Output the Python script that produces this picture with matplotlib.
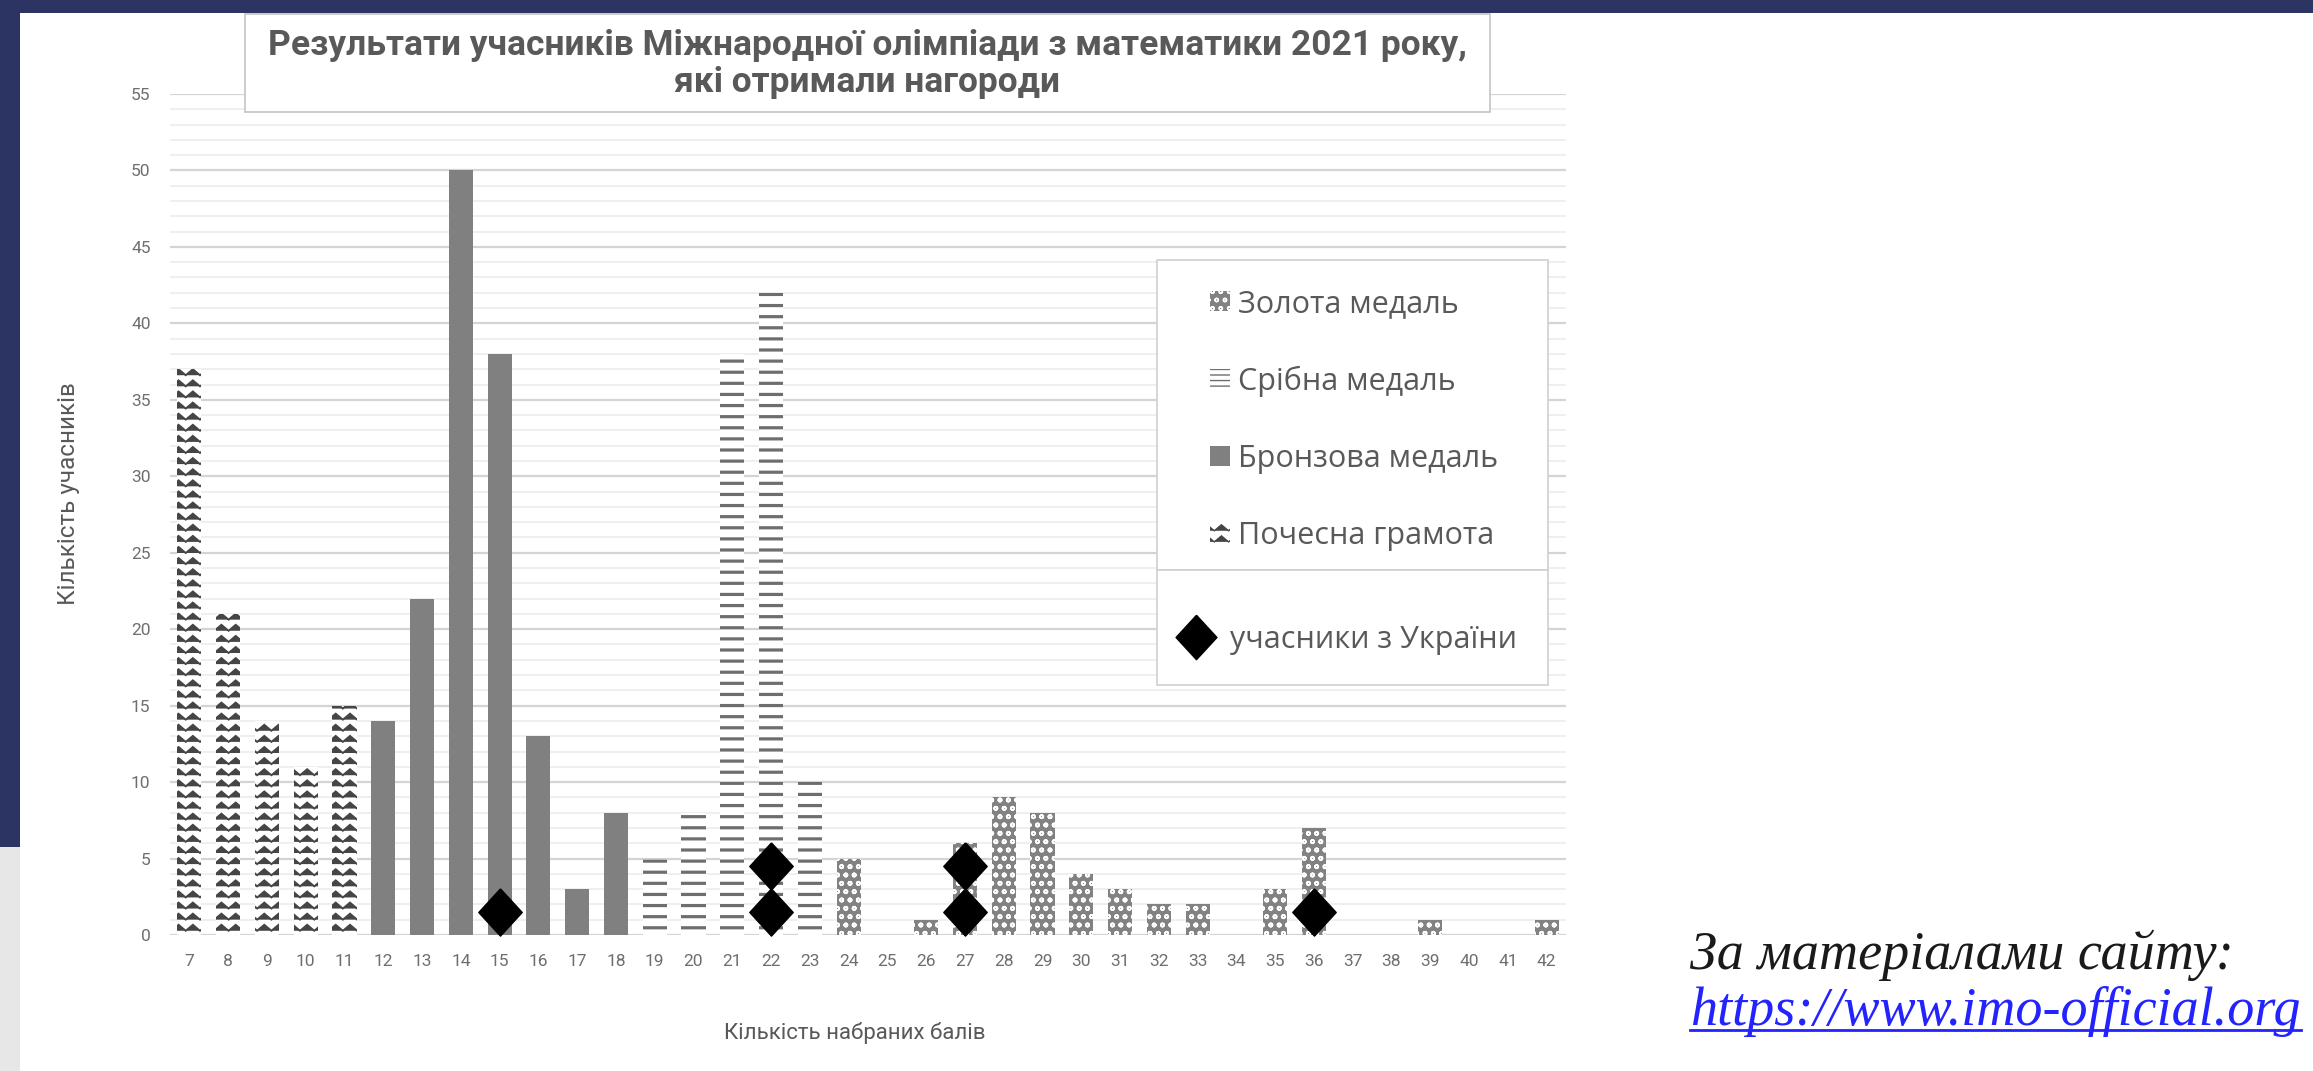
import numpy as np
import matplotlib
matplotlib.use('Agg')
import matplotlib.pyplot as plt
import matplotlib.hatch as mhatch
import matplotlib.patches as mpatches
from matplotlib.lines import Line2D
from matplotlib.path import Path
from matplotlib.ticker import MultipleLocator

# --- data --------------------------------------------------------------
score_ticks = list(range(7, 43))

hm_scores = [7, 8, 9, 10, 11]
hm_counts = [37, 21, 14, 11, 15]

bronze_scores = [12, 13, 14, 15, 16, 17, 18]
bronze_counts = [14, 22, 50, 38, 13, 3, 8]

silver_scores = [19, 20, 21, 22, 23]
silver_counts = [5, 8, 38, 42, 10]

gold_scores = [24, 25, 26, 27, 28, 29, 30, 31, 32, 33, 34, 35, 36, 37, 38, 39, 40, 41, 42]
gold_counts = [5, 0, 1, 6, 9, 8, 4, 3, 2, 2, 0, 3, 7, 0, 0, 1, 0, 0, 1]

ukr_scores = [15, 22, 22, 27, 27, 36]
ukr_marks = [1.5, 1.5, 4.5, 1.5, 4.5, 1.5]

labels = ['Золота медаль', 'Срібна медаль', 'Бронзова медаль', 'Почесна грамота']
ukr_label = 'учасники з України'
title = 'Результати учасників Міжнародної олімпіади з математики 2021 року,\nякі отримали нагороди'


# --- custom hatches: zig-zag rows ('*') and wider horizontal rows ('-') ---
class ZigZagHatch(mhatch.HatchPatternBase):
    def __init__(self, hatch, density):
        self.num_rows = hatch.count('*') * 9
        self.num_teeth = 7
        self.num_vertices = self.num_rows * (2 * self.num_teeth + 1)

    def set_vertices_and_codes(self, vertices, codes):
        n_pts = 2 * self.num_teeth + 1
        xs = np.linspace(0, 1, n_pts)
        bump = np.where(np.arange(n_pts) % 2 == 0, -1, 1) * 0.03
        for i in range(self.num_rows):
            sl = slice(i * n_pts, (i + 1) * n_pts)
            vertices[sl, 0] = xs
            vertices[sl, 1] = (i + 0.5) / self.num_rows + bump
            codes[sl] = Path.LINETO
            codes[i * n_pts] = Path.MOVETO


class RowHatch(mhatch.HorizontalHatch):
    def __init__(self, hatch, density):
        self.num_lines = int((hatch.count('-') + hatch.count('+')) * 9)
        self.num_vertices = self.num_lines * 2


mhatch._hatch_types = [RowHatch if t is mhatch.HorizontalHatch else t
                       for t in mhatch._hatch_types if t is not mhatch.Stars]
mhatch._hatch_types.append(ZigZagHatch)

W, H = 2313, 1071


def fx(px):
    return px / W


def fy(py):
    return 1 - py / H


fig = plt.figure(figsize=(W / 100, H / 100), dpi=100)
fig.patch.set_facecolor('white')

# slide background bits
fig.add_artist(mpatches.Rectangle((0, fy(13)), 1, 13 / H, transform=fig.transFigure,
                                  facecolor='#2b3462', lw=0, zorder=1))
fig.add_artist(mpatches.Rectangle((0, fy(847)), fx(20), (847 - 13) / H, transform=fig.transFigure,
                                  facecolor='#2b3462', lw=0, zorder=1))
fig.add_artist(mpatches.Rectangle((0, 0), fx(20), fy(847), transform=fig.transFigure,
                                  facecolor='#e7e7e7', lw=0, zorder=1))

ax = fig.add_axes([fx(170), fy(935), (1566 - 170) / W, (935 - 94) / H])
ax.set_facecolor('none')

bar_w = 0.62
with plt.rc_context({'hatch.linewidth': 1.35}):
    ax.bar(hm_scores, hm_counts, bar_w, color='white', edgecolor='#454545', hatch='*', lw=0, zorder=2)
ax.bar(bronze_scores, bronze_counts, bar_w, color='#808080', lw=0, zorder=2)
with plt.rc_context({'hatch.linewidth': 2.3}):
    ax.bar(silver_scores, silver_counts, bar_w, color='white', edgecolor='#6e6e6e', hatch='-', lw=0, zorder=2)
with plt.rc_context({'hatch.linewidth': 1.2}):
    ax.bar(gold_scores, gold_counts, bar_w, color='#828282', edgecolor='white', hatch='oo', lw=0, zorder=2)

diamond = [(0, 1), (0.92, 0), (0, -1), (-0.92, 0), (0, 1)]
ax.plot(ukr_scores, ukr_marks, ls='none', marker=diamond, ms=34, color='black', zorder=4, clip_on=False)

ax.set_xlim(6.5, 42.5)
ax.set_ylim(0, 55)
ax.set_xticks(score_ticks)
ax.set_xticklabels([str(s) for s in score_ticks])
ax.yaxis.set_major_locator(MultipleLocator(5))
ax.yaxis.set_minor_locator(MultipleLocator(1))
ax.grid(which='major', axis='y', color='#d4d4d4', lw=1.6)
ax.grid(which='minor', axis='y', color='#ececec', lw=1.2)
ax.set_axisbelow(True)
for s in ax.spines.values():
    s.set_visible(False)
ax.tick_params(which='both', length=0)
ax.tick_params(axis='y', pad=14, labelsize=12.5, labelcolor='#6e6e6e')
ax.tick_params(axis='x', pad=14, labelsize=12.5, labelcolor='#6e6e6e')
for t in ax.get_xticklabels() + ax.get_yticklabels():
    t.set_family('Roboto')

fig.text(fx(69), fy(494), 'Кількість учасників', rotation=90, ha='center', va='center',
         fontsize=17.5, color='#595959', family='Roboto')
fig.text(fx(855), fy(1033), 'Кількість набраних балів', ha='center', va='center',
         fontsize=16, color='#595959', family='Roboto')

# title box
fig.add_artist(mpatches.Rectangle((fx(245), fy(112)), (1490 - 245) / W, (112 - 14) / H,
                                  transform=fig.transFigure, facecolor='white',
                                  edgecolor='#c4c4c4', lw=1.2, zorder=5))
fig.text(fx(867), fy(64), title, ha='center', va='center', fontsize=25.5, fontweight='bold',
         family='Roboto', color='#595959', linespacing=1.12, zorder=6)

# legend boxes
fig.add_artist(mpatches.Rectangle((fx(1157), fy(570)), (1548 - 1157) / W, (570 - 260) / H,
                                  transform=fig.transFigure, facecolor='white',
                                  edgecolor='#cfcfcf', lw=1.2, zorder=5))
fig.add_artist(mpatches.Rectangle((fx(1157), fy(685)), (1548 - 1157) / W, (685 - 570) / H,
                                  transform=fig.transFigure, facecolor='white',
                                  edgecolor='#cfcfcf', lw=1.2, zorder=5))

with plt.rc_context({'hatch.linewidth': 1.2}):
    handles = [
        mpatches.Patch(facecolor='#828282', edgecolor='white', hatch='oo', lw=0),
        mpatches.Patch(facecolor='white', edgecolor='#6e6e6e', hatch='--', lw=0),
        mpatches.Patch(facecolor='#808080', lw=0),
        mpatches.Patch(facecolor='white', edgecolor='#454545', hatch='*', lw=0),
    ]
leg1 = fig.legend(handles, labels, loc='upper left', bbox_to_anchor=(fx(1210), fy(289)),
                  frameon=False, borderpad=0, borderaxespad=0, handlelength=0.65,
                  handleheight=0.65, handletextpad=0.25, labelspacing=1.53,
                  prop={'family': 'Open Sans', 'size': 22}, labelcolor='#595959')
leg1.set_zorder(7)

ukr_handle = Line2D([], [], ls='none', marker=diamond, ms=32, color='black')
leg2 = fig.legend([ukr_handle], [ukr_label], loc='center left', bbox_to_anchor=(fx(1175), fy(640)),
                  frameon=False, borderpad=0, borderaxespad=0, handlelength=1.35,
                  handletextpad=0.45, prop={'family': 'Open Sans', 'size': 22}, labelcolor='#595959')
leg2.set_zorder(7)

# source note
fig.text(fx(1690), fy(969), 'За матеріалами сайту:', family='Liberation Serif', style='italic',
         fontsize=39, va='baseline', color='#1a1a1a')
link = fig.text(fx(1690), fy(1025), 'https://www.imo-official.org', family='Liberation Serif',
                style='italic', fontsize=39, va='baseline', color='#2323ff')
fig.canvas.draw()
bb = link.get_window_extent()
fig.add_artist(Line2D([bb.x0 / W, bb.x1 / W], [fy(1030), fy(1030)], transform=fig.transFigure,
                      color='#2323ff', lw=2))

fig.savefig('out.png', dpi=100)
